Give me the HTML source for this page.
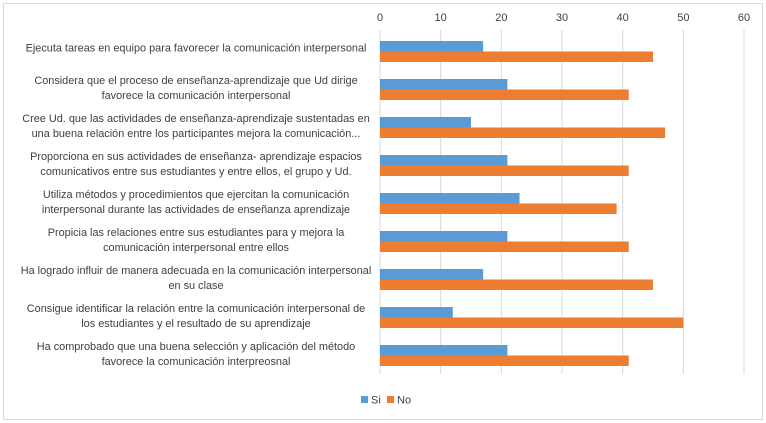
<!DOCTYPE html>
<html><head><meta charset="utf-8"><style>
body{margin:0;background:#fff;font-family:"Liberation Sans",sans-serif;}
#c{position:relative;width:766px;height:423px;overflow:hidden;}
.lbl{position:absolute;right:385px;width:370px;text-align:center;font-size:10.9px;line-height:15px;color:#404040;transform:translateY(-50%);white-space:nowrap;}
</style></head><body>
<div id="c">
<svg id="s" width="766" height="423" style="position:absolute;left:0;top:0">
<rect x="3.5" y="3.5" width="759" height="416" fill="none" stroke="#d9d9d9"/>
<g id="grid"></g><g id="bars"></g>
<g>
<rect x="361" y="396" width="7" height="7" fill="#5b9bd5"/>
<text x="371" y="403.5" font-size="11" fill="#404040">Si</text>
<rect x="387" y="396" width="7" height="7" fill="#ed7d31"/>
<text x="397" y="403.5" font-size="11" fill="#404040">No</text>
</g>
</svg>
<div id="labels"></div>
</div>
<script>
const categories=["Ejecuta tareas en equipo para favorecer la comunicación  interpersonal",
"Considera que el proceso de enseñanza-aprendizaje que Ud dirige<br>favorece la comunicación interpersonal",
"Cree Ud. que las actividades de enseñanza-aprendizaje sustentadas en<br>una buena relación entre los participantes mejora la comunicación...",
"Proporciona en sus actividades de enseñanza- aprendizaje  espacios<br>comunicativos entre sus estudiantes y entre ellos, el grupo  y Ud.",
"Utiliza métodos y procedimientos que ejercitan la comunicación<br>interpersonal durante las actividades de enseñanza aprendizaje",
"Propicia  las relaciones entre sus estudiantes para y mejora  la<br>comunicación interpersonal entre ellos",
"Ha logrado influir de manera adecuada en la comunicación interpersonal<br>en su clase",
"Consigue identificar la relación entre la comunicación interpersonal de<br>los estudiantes y el resultado de su aprendizaje",
"Ha comprobado que una buena selección y aplicación del método<br>favorece la comunicación interpreosnal"];
const siValues=[17,21,15,21,23,21,17,12,21];
const noValues=[45,41,47,41,39,41,45,50,41];
const ticks=[0,10,20,30,40,50,60];
const NS="http://www.w3.org/2000/svg";
const x=v=>380+v*(364/60);
const rowTop=i=>32+i*38;
const grid=document.getElementById('grid'),bars=document.getElementById('bars'),labels=document.getElementById('labels');
ticks.forEach(t=>{
 const l=document.createElementNS(NS,'line');
 l.setAttribute('x1',x(t));l.setAttribute('x2',x(t));l.setAttribute('y1',30);l.setAttribute('y2',374);
 l.setAttribute('stroke','#d9d9d9');
 
 
 grid.appendChild(l);
 const tx=document.createElementNS(NS,'text');
 tx.setAttribute('x',x(t));tx.setAttribute('y',21);tx.setAttribute('text-anchor','middle');
 tx.setAttribute('font-size','11');tx.setAttribute('fill','#404040');tx.textContent=t;
 
 
 grid.appendChild(tx);
});
categories.forEach((c,i)=>{
 const r1=document.createElementNS(NS,'rect');
 r1.setAttribute('x',x(0));r1.setAttribute('y',rowTop(i)+9);r1.setAttribute('width',x(siValues[i])-x(0));r1.setAttribute('height',10.5);r1.setAttribute('fill','#5b9bd5');
 
 
 bars.appendChild(r1);
 const r2=document.createElementNS(NS,'rect');
 r2.setAttribute('x',x(0));r2.setAttribute('y',rowTop(i)+19.5);r2.setAttribute('width',x(noValues[i])-x(0));r2.setAttribute('height',10.5);r2.setAttribute('fill','#ed7d31');
 
 
 bars.appendChild(r2);
 const d=document.createElement('div');
 d.className='lbl';d.style.top=(rowTop(i)+(c.includes('<br>')?19:17))+'px';d.innerHTML=c;
 
 
 labels.appendChild(d);
});
</script>
</body></html>
